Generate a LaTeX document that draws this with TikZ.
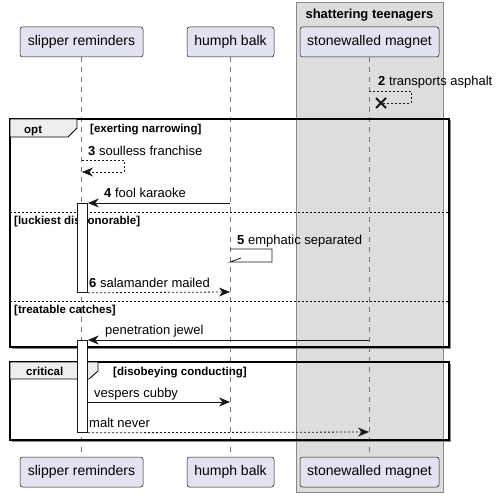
\documentclass[tikz,border=0pt]{standalone}
\usepackage{fontspec}
\setmainfont{Liberation Sans}
\usetikzlibrary{arrows.meta,calc}
\definecolor{partfill}{HTML}{E2E2F0}
\definecolor{partline}{HTML}{181818}
\definecolor{boxfill}{HTML}{DDDDDD}
\definecolor{boxline}{HTML}{888888}
\definecolor{tabfill}{HTML}{EEEEEE}
\definecolor{lifegray}{HTML}{777777}
\begin{document}
\begin{tikzpicture}[x=1pt,y=-1pt,
 part/.style={draw=partline, fill=partfill, rounded corners=2.5pt, line width=0.5pt, minimum height=30pt, inner sep=0pt, font=\fontsize{14}{16}\selectfont},
 msg/.style={font=\fontsize{13}{15}\selectfont, anchor=base west, inner sep=0pt},
 guard/.style={font=\bfseries\fontsize{11.5}{13}\selectfont, anchor=base west, inner sep=0pt},
 life/.style={draw=lifegray, dash pattern=on 5pt off 5pt, line width=0.6pt},
 arr/.style={draw=partline, line width=0.8pt, -{Stealth[length=11pt,width=9pt,inset=3.5pt]}},
 darr/.style={arr, dash pattern=on 2pt off 2pt},
 actbox/.style={draw=partline, fill=white, line width=0.8pt},
 frame/.style={draw=black, line width=1.5pt},
 shadow/.style={draw=black!45, line width=1.6pt},
 sep/.style={draw=black, line width=0.7pt, dash pattern=on 2pt off 2pt},
 tab/.style={draw=black, fill=tabfill, line width=0.8pt}
]
\useasboundingbox (0,0) rectangle (497,497);
% group box
\node[draw=boxline, fill=boxfill, line width=0.8pt, minimum width=147pt, minimum height=490pt, inner sep=0pt, anchor=north west] (grp) at (296,2) {};
\node[font=\bfseries\fontsize{13}{15}\selectfont, inner sep=0pt] (grpT) at (369.5,15) {shattering teenagers};
% participants
\node[part, minimum width=123pt] (sT) at (81.5,42) {slipper reminders};
\node[part, minimum width=87pt] (hT) at (230.5,42) {humph balk};
\node[part, minimum width=139pt] (mT) at (369.5,42) {stonewalled magnet};
\node[part, minimum width=123pt] (sB) at (81.5,472) {slipper reminders};
\node[part, minimum width=87pt] (hB) at (230.5,472) {humph balk};
\node[part, minimum width=139pt] (mB) at (369.5,472) {stonewalled magnet};
\draw[life] (sT.south) -- (sB.north);
\draw[life] (hT.south) -- (hB.north);
\draw[life] (mT.south) -- (mB.north);
% frames
\draw[shadow] (11.5,348.5) -- (450.5,348.5) -- (450.5,120.5);
\draw[frame] (10,119) rectangle (449,347);
\draw[tab] (10,119) -- (77,119) -- (77,128) -- (68,137) -- (10,137) -- cycle;
\node[guard] (optT) at (24,134) {opt};
\node[guard] (g1) at (90,133) {[exerting narrowing]};
\draw[sep] (10,212) -- (449,212);
\node[guard] (g2) at (14,224) {[luckiest dishonorable]};
\draw[sep] (10,301) -- (449,301);
\node[guard] (g3) at (14,313) {[treatable catches]};
\draw[shadow] (11.5,441.5) -- (450.5,441.5) -- (450.5,363.5);
\draw[frame] (10,362) rectangle (449,440);
\draw[tab] (10,362) -- (98,362) -- (98,371) -- (89,379) -- (10,379) -- cycle;
\node[guard] (critT) at (26,375.5) {critical};
\node[guard] (g4) at (113,375.5) {[disobeying conducting]};
% activations
\node[actbox, minimum width=10pt, minimum height=89pt, inner sep=0pt, anchor=north west] (act1) at (77,203) {};
\node[actbox, minimum width=10pt, minimum height=92pt, inner sep=0pt, anchor=north west] (act2) at (77,340) {};
% message 2
\coordinate (m2a) at (369,91);
\coordinate (m2d) at (381,103);
\draw[partline, line width=0.8pt, dash pattern=on 2pt off 2pt] (m2a) -- ++(42,0) -- ++(0,12) -- (m2d);
\draw[partline, line width=2pt] ($(m2d)+(-5,-5)$) -- ($(m2d)+(5,5)$) ($(m2d)+(-5,5)$) -- ($(m2d)+(5,-5)$);
\node[msg] (t2) at (378,86) {\textbf{2} transports asphalt};
% message 3
\coordinate (m3a) at (82,160);
\coordinate (m3b) at (82,172);
\draw[darr] (m3a) -- ++(42,0) -- ++(0,12) -- (m3b);
\node[msg] (t3) at (88,156) {\textbf{3} soulless franchise};
% message 4
\coordinate (m4a) at (230,203);
\draw[arr] (m4a) -- (act1.north east);
\node[msg] (t4) at (104,197.5) {\textbf{4} fool karaoke};
% message 5
\coordinate (m5a) at (230,249);
\coordinate (m5b) at (230,262);
\draw[partline, line width=0.8pt] (m5a) -- ++(42,0) -- ++(0,13) -- (m5b) -- ++(11,-4);
\node[msg] (t5) at (237,244) {\textbf{5} emphatic separated};
% message 6
\coordinate (m6b) at (230,292);
\draw[darr] (act1.south east) -- (m6b);
\node[msg] (t6) at (89,287) {\textbf{6} salamander mailed};
% penetration
\coordinate (m7a) at (369,340);
\draw[arr] (m7a) -- (act2.north east);
\node[msg] (t7) at (105,334) {penetration jewel};
% vespers
\coordinate (m8a) at (87,402);
\coordinate (m8b) at (230,402);
\draw[arr] (m8a) -- (m8b);
\node[msg] (t8) at (94,397) {vespers cubby};
% malt never
\coordinate (m9b) at (369,432);
\draw[darr] (act2.south east) -- (m9b);
\node[msg] (t9) at (89,427) {malt never};
\end{tikzpicture}
\end{document}
